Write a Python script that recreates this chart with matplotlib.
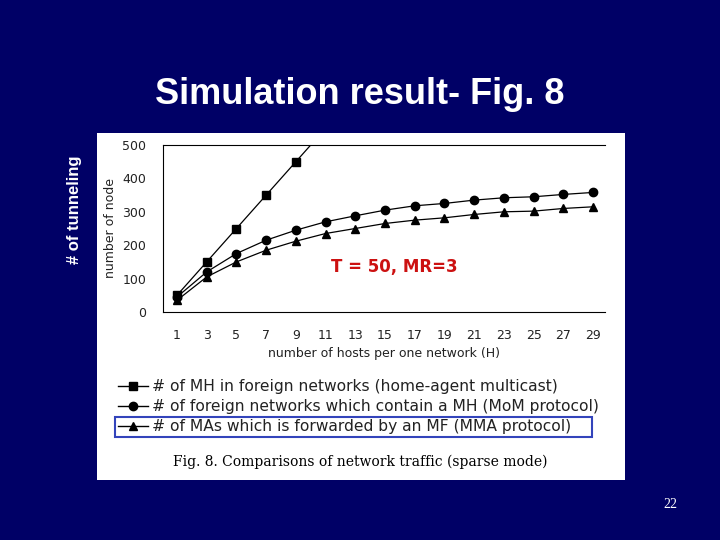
import matplotlib

matplotlib.use("Agg")

import matplotlib.pyplot as plt
from matplotlib.lines import Line2D
from matplotlib.patches import Rectangle

hosts = [1, 3, 5, 7, 9, 11, 13, 15, 17, 19, 21, 23, 25, 27, 29]
mh_hosts = [1, 3, 5, 7, 9, 11]
mh_foreign = [50, 150, 250, 350, 450, 550]
foreign_nets = [45, 120, 175, 215, 245, 270, 288, 305, 318, 325, 335, 342, 345, 352, 358]
mas_forwarded = [35, 105, 150, 185, 212, 235, 250, 265, 275, 282, 292, 300, 302, 310, 315]
legend_labels = [
    "# of MH in foreign networks (home-agent multicast)",
    "# of foreign networks which contain a MH (MoM protocol)",
    "# of MAs which is forwarded by an MF (MMA protocol)",
]

W, H = 720, 540
fig = plt.figure(figsize=(7.2, 5.4), dpi=100)
fig.patch.set_facecolor("#000066")

# white scanned figure panel
fig.patches.append(Rectangle((97 / W, 1 - 480 / H), 528 / W, 347 / H,
                             transform=fig.transFigure, facecolor="white",
                             edgecolor="none", zorder=0))

ax = fig.add_axes([163 / W, 1 - 312 / H, 442 / W, 167 / H])
ax.set_zorder(5)
ax.set_facecolor("white")
ax.plot(mh_hosts, mh_foreign, "k-s", markersize=6, linewidth=0.9)
ax.plot(hosts, foreign_nets, "k-o", markersize=6, linewidth=0.9)
ax.plot(hosts, mas_forwarded, "k-^", markersize=6, linewidth=0.9)
ax.set_xlim(0.06, 29.8)
ax.set_ylim(0, 500)
ax.set_xticks(hosts)
ax.set_yticks([0, 100, 200, 300, 400, 500])
ax.tick_params(length=0, labelsize=9, colors="#222222", pad=12)
ax.spines["right"].set_visible(False)
for side in ["top", "bottom", "left"]:
    ax.spines[side].set_linewidth(0.8)
ax.set_ylabel("number of node", fontsize=9, color="#222222")
ax.set_xlabel("number of hosts per one network (H)", fontsize=9, color="#222222", labelpad=4)
ax.text(0.38, 0.24, "T = 50, MR=3", transform=ax.transAxes, color="#cc1111",
        fontsize=12, fontweight="bold")

# hand-drawn legend
markers = ["s", "o", "^"]
for i, (m, lab) in enumerate(zip(markers, legend_labels)):
    y = 1 - (386 + 20 * i) / H
    fig.lines.append(Line2D([118 / W, 133 / W, 148 / W], [y, y, y], transform=fig.transFigure,
                            color="black", linewidth=1, marker=m, markersize=6,
                            markevery=[1], zorder=6))
    fig.text(152 / W, y, lab, fontsize=11.2, color="#222222", va="center")
fig.patches.append(Rectangle((115 / W, 1 - 437 / H), 477 / W, 20 / H,
                             transform=fig.transFigure, facecolor="none",
                             edgecolor="#3344bb", linewidth=1.5, zorder=6))

fig.text(173 / W, 1 - 462 / H, "Fig. 8. Comparisons of network traffic (sparse mode)",
         family="DejaVu Serif", fontsize=10, color="black", va="center")

fig.text(0.5, 1 - 95 / H, "Simulation result- Fig. 8", ha="center", va="center",
         color="white", fontsize=26, fontweight="bold", family="Liberation Sans")
fig.text(75 / W, 1 - 210 / H, "# of tunneling", rotation=90, ha="center", va="center",
         color="white", fontsize=12, fontweight="bold", family="Liberation Sans")
fig.text(670 / W, 1 - 505 / H, "22", ha="center", va="center", color="white",
         fontsize=10, family="Liberation Serif")

fig.savefig("out.png", dpi=100, facecolor=fig.get_facecolor())
